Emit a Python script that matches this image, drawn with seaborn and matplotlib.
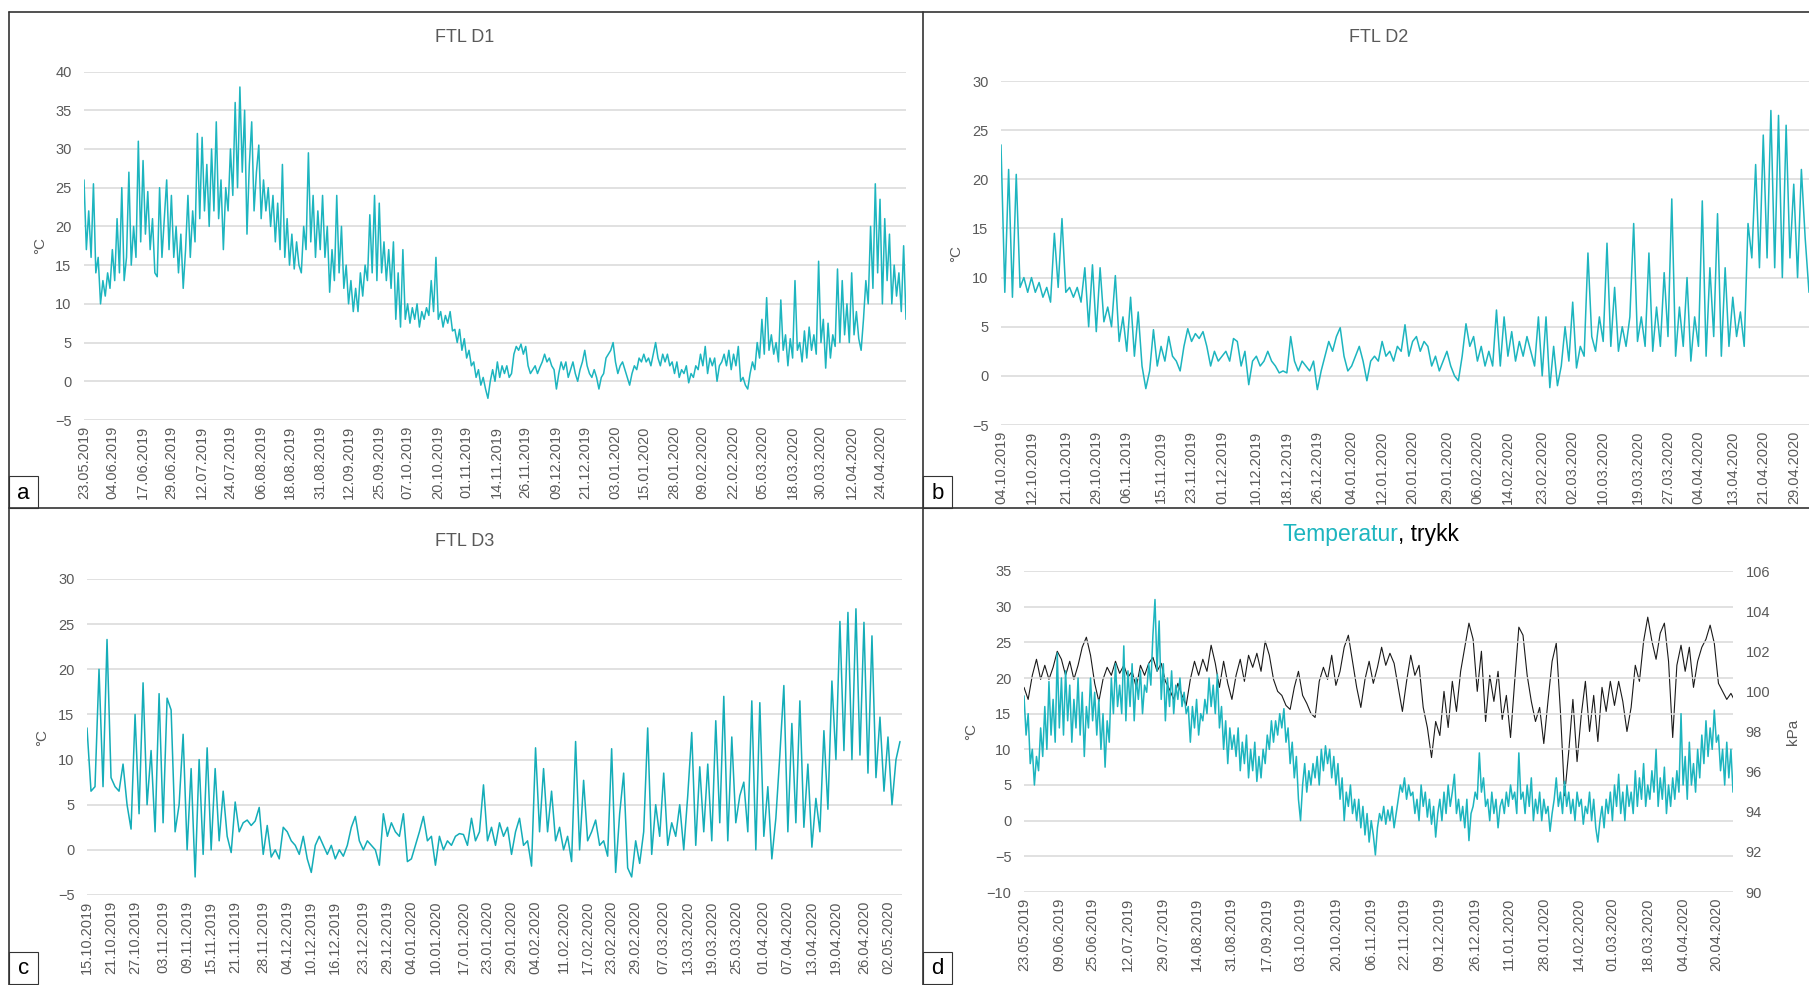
import matplotlib
matplotlib.use("Agg")
import pandas as pd
import matplotlib.pyplot as plt
import matplotlib.dates as mdates
from matplotlib.lines import Line2D
from matplotlib.patches import Rectangle
import seaborn as sns

TEAL = "#1DB5BF"
TEAL_DARK = "#14ADB8"
GREY = "#595959"
GRID = "#D9D9D9"
W, H = 1809, 985

# ---------------- data (one value per day) ----------------
d1_start = "2019-05-23"
d1_temp = [
    26, 17, 22, 16, 25.5, 14, 16, 10, 13, 11,
    14, 12, 17, 13, 21, 14, 25, 13, 16, 27,
    15, 20, 16, 31, 18, 28.5, 19, 24.5, 17, 21,
    14, 13.5, 25, 16, 21, 26, 17, 24, 16, 20,
    14, 19, 12, 17, 24, 16, 22, 18, 32, 21,
    31.5, 22, 28, 20, 30, 22, 33.5, 21, 26, 17,
    25, 22, 30, 24, 36, 25, 38, 27, 35, 19,
    28, 33.5, 22, 27, 30.5, 21, 26, 22, 25, 20,
    24, 18, 23, 17, 28, 16, 21, 15, 19, 14.5,
    18, 15, 14, 20, 17, 29.5, 18, 24, 16, 22,
    17, 24, 16, 20, 11.5, 17, 13, 24, 14, 20,
    12, 15, 10, 13, 9, 12, 9, 14, 11, 15,
    13, 21.5, 14, 24, 13, 23, 14, 18, 13, 17,
    12, 18, 8, 14, 7, 17, 8, 10, 7.5, 9.5,
    8, 10, 7, 9, 8, 9.5, 8.5, 13, 9, 16,
    8, 9, 7, 8.5, 7.5, 9, 6.5, 6.7, 5, 6.7,
    4, 5.5, 3, 4, 2, 2.5, 0.5, 1.5, -0.5, 0.5,
    -1, -2.2, 0, 1.5, 0, 2.5, 0.5, 2, 1, 2,
    0.5, 1, 3.5, 4.5, 4, 4.8, 3.5, 4.5, 2, 1,
    1.5, 2, 1, 1.8, 2.5, 3.5, 2.5, 3, 2, 1.5,
    -1, 1, 2.5, 1.5, 2.5, 0.5, 1.5, 2.5, 1, 0,
    1.5, 2.5, 4, 2, 1, 0.5, 1.5, 0.5, -1, 0.5,
    1, 3, 3.5, 4, 5, 2.5, 1, 2, 2.5, 1.5,
    0.5, -0.5, 1, 2, 1.5, 3, 2.5, 3.5, 2.5, 3,
    2, 3.5, 5, 3, 2, 3.5, 2.5, 3.5, 2, 2.5,
    1, 2.5, 0.5, 1.5, 1, 2, -0.2, 1, 0.5, 2,
    1.5, 3.5, 2, 4.5, 1, 3, 2, 3, 0, 2,
    2.5, 3.5, 2, 4, 1.5, 3.5, 2, 4.5, 0, 0.5,
    -0.5, -1, 1, 2.5, 1.5, 5, 3, 8, 3.5, 10.8,
    4, 6, 3.5, 5, 2.5, 10.5, 4, 6, 2, 5.5,
    3, 13, 4, 5, 2.5, 6.5, 3, 7, 4, 6,
    3.5, 15.5, 5, 8, 1.7, 7.5, 3, 6, 4.5, 14.5,
    5, 13, 6, 10, 5, 14, 6, 9, 5.5, 4,
    8, 13, 10, 20, 12, 25.5, 14, 23.5, 10, 21,
    13, 19, 10, 15, 11, 14, 9, 17.5, 8,
]
d1_ticks = [
    "23.05.2019", "04.06.2019", "17.06.2019", "29.06.2019", "12.07.2019",
    "24.07.2019", "06.08.2019", "18.08.2019", "31.08.2019", "12.09.2019",
    "25.09.2019", "07.10.2019", "20.10.2019", "01.11.2019", "14.11.2019",
    "26.11.2019", "09.12.2019", "21.12.2019", "03.01.2020", "15.01.2020",
    "28.01.2020", "09.02.2020", "22.02.2020", "05.03.2020", "18.03.2020",
    "30.03.2020", "12.04.2020", "24.04.2020",
]

d2_start = "2019-10-04"
d2_temp = [
    23.5, 8.5, 21, 8, 20.5, 9, 10, 8.5, 10, 8.5,
    9.5, 8, 9, 7.5, 14.5, 9, 16, 8.5, 9, 8,
    9, 7.5, 11, 5, 11.3, 4.5, 11, 5.5, 7, 5,
    10.2, 3.5, 6, 2.5, 8, 2, 6.5, 1, -1.3, 0.5,
    4.7, 1, 3, 1.5, 4, 2, 1.5, 0.5, 3, 4.8,
    3.5, 4.3, 3.8, 4.5, 3, 1, 2.5, 1.5, 2, 2.5,
    1.5, 3.8, 3.5, 1, 2.5, -0.9, 1.5, 2, 1, 1.5,
    2.5, 1.5, 1, 0.3, 0.5, 0.3, 4, 1.5, 0.5, 1.5,
    1, 0.5, 1.5, -1.4, 0.5, 2, 3.5, 2.5, 4, 4.9,
    2, 0.5, 1, 2, 3, 1.5, -0.5, 1.5, 2, 1.5,
    3.5, 2, 2.5, 1.5, 3, 2.5, 5.2, 2, 3.5, 4,
    2.5, 3.5, 3, 1, 2, 0.5, 1.5, 2.5, 1, 0,
    -0.5, 2, 5.3, 3, 4, 1.5, 3, 1, 2.5, 1,
    6.7, 1, 6, 2, 4.5, 1.5, 3.5, 2, 4, 2.5,
    1, 6, 0, 6, -1.2, 3, -1, 1, 5, 1.5,
    7.5, 0.8, 3, 2, 12.5, 4, 2.5, 6, 3.5, 13.5,
    3, 9, 2.5, 5, 3, 6, 15.5, 3.5, 6, 3,
    12.5, 2.5, 7, 3, 10.5, 4, 18, 2, 7, 3,
    10, 1.5, 6, 3, 17.8, 2, 11, 4, 16.5, 2,
    11, 3, 8, 4, 6.5, 3, 15.5, 12, 21.5, 11,
    24.5, 12, 27, 11, 26.5, 10, 25.5, 12, 19.5, 10,
    21, 14, 8.5,
]
d2_ticks = [
    "04.10.2019", "12.10.2019", "21.10.2019", "29.10.2019", "06.11.2019",
    "15.11.2019", "23.11.2019", "01.12.2019", "10.12.2019", "18.12.2019",
    "26.12.2019", "04.01.2020", "12.01.2020", "20.01.2020", "29.01.2020",
    "06.02.2020", "14.02.2020", "23.02.2020", "02.03.2020", "10.03.2020",
    "19.03.2020", "27.03.2020", "04.04.2020", "13.04.2020", "21.04.2020",
    "29.04.2020",
]

d3_start = "2019-10-15"
d3_temp = [
    13.5, 6.5, 7, 20, 7, 23.3, 8, 7, 6.5, 9.5,
    5, 2.3, 15, 4, 18.5, 5, 11, 2, 17.3, 3,
    16.8, 15.5, 2, 5, 12.8, 0, 9, -3, 10, -0.5,
    11.3, 0, 9, 1, 6.5, 1.5, -0.3, 5.3, 2, 3,
    3.3, 2.7, 3.2, 4.7, -0.5, 2.7, -0.8, 0, -1, 2.5,
    2, 1, 0.5, -0.5, 1.5, -1, -2.5, 0.5, 1.5, 0.5,
    -0.5, 0.5, -1, 0, -0.7, 0.5, 2.5, 3.7, 1, 0,
    1, 0.5, 0, -1.7, 4, 1.5, 3, 2, 1.5, 4,
    -1.3, -1, 0.5, 2, 3.7, 1, 1.5, -1.7, 1.5, 0,
    1, 0.5, 1.5, 1.8, 1.7, 0.5, 3.5, 1, 2, 7.2,
    1, 2.5, 0.5, 3, 1.5, 2.5, -0.5, 2, 3.5, 0.5,
    1, -1.8, 11.3, 2, 9, 2, 6.5, 1, 2.5, 0,
    1.5, -1.3, 12, 0, 7.7, 1, 2, 3.3, 0.5, 1,
    -0.7, 11.2, -2.5, 4, 8.5, -2, -3, 1, -1.5, 2,
    13.5, -0.5, 5, 1.5, 8.5, 0.5, 3, 1.5, 5, 0,
    6, 13, 0.5, 9.2, 2, 9.5, 1, 14.3, 3, 17,
    1, 12.5, 3, 6, 7.5, 2, 16.5, 0, 16.3, 1.5,
    7, -1, 3.5, 10.5, 18.2, 2, 14, 3, 16.5, 2.5,
    9.5, 0.3, 5.7, 2, 13.2, 4.5, 18.7, 10, 25.3, 11,
    26.3, 10, 26.7, 10.5, 25.2, 8.5, 23.7, 8, 14.7, 6.5,
    12.5, 5, 10, 12,
]
d3_ticks = [
    "15.10.2019", "21.10.2019", "27.10.2019", "03.11.2019", "09.11.2019",
    "15.11.2019", "21.11.2019", "28.11.2019", "04.12.2019", "10.12.2019",
    "16.12.2019", "23.12.2019", "29.12.2019", "04.01.2020", "10.01.2020",
    "17.01.2020", "23.01.2020", "29.01.2020", "04.02.2020", "11.02.2020",
    "17.02.2020", "23.02.2020", "29.02.2020", "07.03.2020", "13.03.2020",
    "19.03.2020", "25.03.2020", "01.04.2020", "07.04.2020", "13.04.2020",
    "19.04.2020", "26.04.2020", "02.05.2020",
]

# air temperature (daily) and pressure (every second day)
air_start = "2019-05-23"
air_temp = [
    17.5, 12, 15, 8, 10, 5, 9, 7, 13, 9,
    16, 10, 19.5, 12, 17, 11, 23.5, 13, 20, 12,
    21, 14, 19, 11, 17, 13, 20, 12, 18, 9,
    16, 13, 20, 14, 18, 12, 17, 10, 15, 7.5,
    14, 11, 20, 15, 22, 16, 19, 15, 24.5, 14,
    21, 16, 22, 14, 20, 17, 21, 15, 19, 18,
    22, 19, 26, 31, 21, 28, 17, 22, 14, 20,
    16, 21, 15, 19, 17, 20, 16, 18, 15, 16,
    11, 16, 13, 17, 12, 15, 14, 17, 15, 20,
    16, 19, 15, 20.5, 13, 16, 10, 14, 8, 13,
    10, 12, 9, 13, 7, 11, 8, 12, 6, 10,
    7, 11, 5.5, 9, 6, 10, 8, 12, 10, 14,
    11, 14, 12, 15, 13, 15.7, 11, 13, 8, 11,
    6, 9, 3, 0, 5, 8, 4, 7, 5, 8,
    6, 9, 5, 10, 7, 10.5, 8, 10, 6, 9,
    5, 8, 3, 6, 0, 4, 2, 5, 1, 3,
    0, 3, -1, 2, -2, 1, -3, 0, -2, -4.8,
    -1, 1, 0, 2, -0.5, 1.5, 0, 2, -1, 1,
    3, 5, 4, 6, 3, 5, 3.5, 4, 1, 3,
    0, 5, 2, 4, 0.5, 3, -0.5, 2, -2.3, 1,
    3, 0, 4, 1, 5, 2, 4, 6.5, 1, 3,
    0, 2, -1, 3, -2.8, 1, 2, 4, 3, 9.5,
    4, 6, 2, 3, 0, 4, 1, 3, -1, 2,
    3, 1, 4, 2, 5, 3, 4, 1, 9.5, 3,
    4, 1, 5, 2, 6, 0, 3, 1, 4, 0,
    3, 1, 2, -1.5, 1, 3, 6, 2, 4, 1,
    5.5, 2, 4, 1, 3, 0, 4, 2, 3, -0.5,
    2, 1, 4, 0, 3, -1, -3, 0, 2, -1,
    3, 1, 4, 0, 5, 2, 6.5, 1, 4, 0,
    5, 2, 4, 1, 7, 2, 6, 3, 8, 2,
    5, 3, 7, 4, 10, 2, 6, 3, 7.5, 1,
    5, 2, 6, 3, 7, 4, 15, 5, 9, 3,
    11, 5, 8, 4, 10, 6, 12, 8, 14, 9,
    13, 10, 15.5, 11, 12, 7, 10, 5, 11, 6,
    10, 4, 8, 6, 5,
]
air_press = [
    100.2, 99.6, 100.8, 101.6, 100.6, 101.3, 100.6, 101.2, 102.0, 101.6,
    100.8, 101.5, 100.6, 101.3, 102.2, 102.7, 101.8, 100.4, 99.5, 100.6,
    101.2, 100.8, 101.5, 100.9, 101.3, 100.7, 101.0, 100.2, 101.3, 100.8,
    101.4, 101.7, 101.0, 101.4, 100.5, 100.1, 99.6, 100.4, 99.8, 99.3,
    100.6, 101.5, 100.8, 101.6, 101.0, 102.3, 101.4, 100.2, 101.5, 100.4,
    99.6, 100.8, 101.6, 100.5, 101.8, 101.2, 101.9, 101.0, 102.5, 101.8,
    100.6, 100.0, 99.8, 99.3, 99.1, 100.2, 101.0, 99.8, 99.4, 98.9,
    98.7, 100.5, 101.2, 100.6, 101.8, 100.3, 101.0, 102.2, 102.8, 101.5,
    100.2, 99.2, 100.6, 101.5, 100.4, 101.2, 102.2, 101.3, 101.9, 101.4,
    100.2, 99.0, 100.5, 101.8, 100.8, 101.3, 99.2, 98.2, 96.7, 98.5,
    97.8, 100.0, 98.2, 100.5, 99.0, 101.0, 102.2, 103.4, 102.6, 100.0,
    102.0, 98.5, 100.8, 99.5, 101.0, 98.6, 99.8, 97.7, 100.5, 103.2,
    102.8, 100.8, 99.5, 98.5, 99.2, 97.4, 99.5, 101.5, 102.4, 99.0,
    94.8, 97.0, 99.6, 96.5, 98.8, 100.5, 98.0, 99.8, 97.5, 100.2,
    99.0, 100.5, 99.3, 100.5, 99.5, 98.0, 99.2, 101.3, 100.5, 102.5,
    103.7, 102.5, 101.6, 102.9, 103.4, 101.5, 97.7, 101.3, 102.3, 101.0,
    102.2, 100.2, 101.5, 102.2, 102.6, 103.3, 102.4, 100.4, 100.0, 99.6,
    99.9, 99.5, 101.5,
]
air_ticks = [
    "23.05.2019", "09.06.2019", "25.06.2019", "12.07.2019", "29.07.2019",
    "14.08.2019", "31.08.2019", "17.09.2019", "03.10.2019", "20.10.2019",
    "06.11.2019", "22.11.2019", "09.12.2019", "26.12.2019", "11.01.2020",
    "28.01.2020", "14.02.2020", "01.03.2020", "18.03.2020", "04.04.2020",
    "20.04.2020",
]


def frame(start, values, freq="D"):
    return pd.DataFrame({"date": pd.date_range(start, periods=len(values), freq=freq),
                         "value": values})


def rect(l, t, r, b):
    return [l / W, 1 - b / H, (r - l) / W, (b - t) / H]


def style_axis(ax, ticks, start, ndays, ylim, ystep, ylab_x):
    t = pd.to_datetime(ticks, format="%d.%m.%Y")
    ax.set_xticks(mdates.date2num(t))
    ax.set_xticklabels(ticks, rotation=90)
    s = pd.Timestamp(start)
    ax.set_xlim(mdates.date2num(s), mdates.date2num(s + pd.Timedelta(days=ndays)))
    ax.set_ylim(*ylim)
    ax.set_yticks(range(ylim[0], ylim[1] + 1, ystep))
    ax.grid(axis="y", color=GRID, linewidth=1.1)
    ax.grid(axis="x", visible=False)
    ax.set_axisbelow(True)
    for sp in ax.spines.values():
        sp.set_visible(False)
    ax.tick_params(axis="both", length=0, labelsize=10.5, colors=GREY)
    ax.tick_params(axis="x", pad=4)
    ax.tick_params(axis="y", pad=9)
    ax.set_xlabel("")
    ax.set_ylabel("°C", color=GREY, fontsize=11)
    ax.yaxis.set_label_coords(ylab_x, 0.5)


sns.set_theme(style="white")
plt.rcParams["font.family"] = ["Liberation Sans", "DejaVu Sans"]

fig = plt.figure(figsize=(W / 100, H / 100), dpi=100)
fig.patch.set_facecolor("white")

panels = [
    (rect(84, 71.5, 906, 420), d1_start, d1_temp, d1_ticks, 348, (-5, 40), -0.045,
     "FTL D1", 465, 38, TEAL),
    (rect(1001, 81, 1809, 425), d2_start, d2_temp, d2_ticks, 212, (-5, 30), -0.047,
     "FTL D2", 1379, 38, TEAL),
    (rect(87, 579, 902, 895), d3_start, d3_temp, d3_ticks, 203.5, (-5, 30), -0.047,
     "FTL D3", 465, 542, TEAL_DARK),
]
for box, start, vals, ticks, nd, ylim, ylx, title, tx, ty, col in panels:
    ax = fig.add_axes(box)
    df = frame(start, vals)
    sns.lineplot(data=df, x="date", y="value", ax=ax, color=col, linewidth=1.1,
                 estimator=None)
    style_axis(ax, ticks, start, nd, ylim, 5, ylx)
    fig.text(tx / W, 1 - ty / H, title, ha="center", va="center", fontsize=13, color=GREY)

# panel d: temperature with pressure on a second axis
axd = fig.add_axes(rect(1024, 571, 1733, 892))
sns.lineplot(data=frame(air_start, air_temp), x="date", y="value", ax=axd,
             color=TEAL, linewidth=1.1, estimator=None)
style_axis(axd, air_ticks, air_start, 341, (-10, 35), 5, -0.065)
axp = axd.twinx()
sns.lineplot(data=frame(air_start, air_press, "2D"), x="date", y="value", ax=axp,
             color="#1A1A1A", linewidth=0.8, estimator=None)
axp.set_ylim(90, 106)
axp.set_yticks(range(90, 107, 2))
axp.grid(False)
for sp in axp.spines.values():
    sp.set_visible(False)
axp.tick_params(axis="y", length=0, labelsize=10.5, colors=GREY, pad=9)
axp.set_ylabel("kPa", color=GREY, fontsize=11)
axp.yaxis.set_label_coords(1.075, 0.5)
axd.set_zorder(axp.get_zorder() + 1)
axd.patch.set_visible(False)

fig.text(1398 / W, 1 - 534 / H, "Temperatur", ha="right", va="center", fontsize=16.5, color=TEAL)
fig.text(1398 / W, 1 - 534 / H, ", trykk", ha="left", va="center", fontsize=16.5, color="black")

# panel borders and letter boxes
for x0, y0, x1, y1 in [(9, 12, W, 12), (9, 12, 9, H), (923, 12, 923, H), (9, 508, W, 508)]:
    fig.add_artist(Line2D([x0 / W, x1 / W], [1 - y0 / H, 1 - y1 / H],
                          transform=fig.transFigure, color="#333333", linewidth=1.2))
for letter, l, t in [("a", 9, 476), ("b", 923, 476), ("c", 9, 952), ("d", 923, 952)]:
    fig.add_artist(Rectangle((l / W, 1 - (t + 32) / H), 29 / W, 32 / H,
                             transform=fig.transFigure, facecolor="white",
                             edgecolor="#333333", linewidth=0.8))
    fig.text((l + 14.5) / W, 1 - (t + 17) / H, letter, ha="center", va="center",
             fontsize=16, color="black")

fig.savefig("out.png", dpi=100, facecolor="white")
